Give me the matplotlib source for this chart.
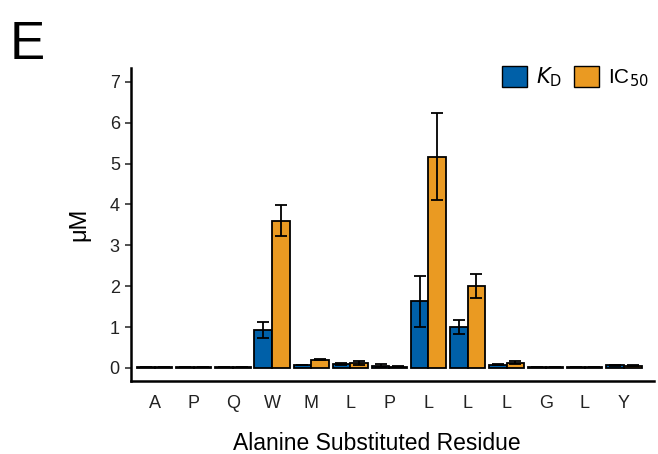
import numpy as np
import matplotlib.pyplot as plt
from matplotlib.patches import Patch

plt.rcParams['font.family'] = ['Liberation Sans', 'DejaVu Sans']

residues = ["A", "P", "Q", "W", "M", "L", "P", "L", "L", "L", "G", "L", "Y"]
kd = [0.01, 0.01, 0.01, 0.93, 0.08, 0.09, 0.05, 1.63, 1.0, 0.08, 0.01, 0.01, 0.06]
kd_err = [0, 0, 0, 0.2, 0, 0.02, 0.04, 0.62, 0.17, 0.02, 0, 0, 0.01]
ic50 = [0.01, 0.01, 0.01, 3.6, 0.2, 0.12, 0.03, 5.17, 2.0, 0.13, 0.01, 0.01, 0.05]
ic50_err = [0, 0, 0, 0.38, 0.02, 0.05, 0.01, 1.07, 0.3, 0.04, 0, 0, 0.01]

blue = "#0060A8"
orange = "#EA9A22"

fig = plt.figure(figsize=(6.58, 4.54), dpi=100)
ax = fig.add_axes([0.199, 0.161, 0.795, 0.689])

x = np.arange(len(residues))
w = 0.45
ax.bar(x - w / 2, kd, w, color=blue, edgecolor="black", linewidth=1.3)
ax.bar(x + w / 2, ic50, w, color=orange, edgecolor="black", linewidth=1.3)
ax.errorbar(x - w / 2, kd, yerr=kd_err, fmt="none", ecolor="black",
            elinewidth=1.3, capsize=4, capthick=1.3)
ax.errorbar(x + w / 2, ic50, yerr=ic50_err, fmt="none", ecolor="black",
            elinewidth=1.3, capsize=4, capthick=1.3)

ax.set_xlim(-0.61, 12.77)
ax.set_ylim(-0.32, 7.34)
ax.set_yticks(range(8))
ax.set_xticks(x)
ax.set_xticklabels(residues)
ax.tick_params(axis="both", labelsize=13, width=1.2, length=4.5, color="#333333",
               labelcolor="#222222")
ax.tick_params(axis="x", length=0, pad=10)
for s in ["top", "right"]:
    ax.spines[s].set_visible(False)
for s in ["left", "bottom"]:
    ax.spines[s].set_linewidth(1.8)

ax.set_xlabel("Alanine Substituted Residue", fontsize=16.5)
ax.xaxis.set_label_coords(0.47, -0.163)
ax.set_ylabel("μM", fontsize=17, labelpad=14)

handles = [Patch(facecolor=blue, edgecolor="black"),
           Patch(facecolor=orange, edgecolor="black")]
ax.legend(handles, [r"$K_{\mathrm{D}}$", r"IC$_{50}$"], loc="upper right",
          ncol=2, frameon=False, fontsize=15, handlelength=1.2, handleheight=1.2,
          columnspacing=0.6, handletextpad=0.4, borderaxespad=0,
          bbox_to_anchor=(1.005, 1.035))

fig.text(0.015, 0.87, "E", fontsize=38)

fig.savefig("out.png", dpi=100)
